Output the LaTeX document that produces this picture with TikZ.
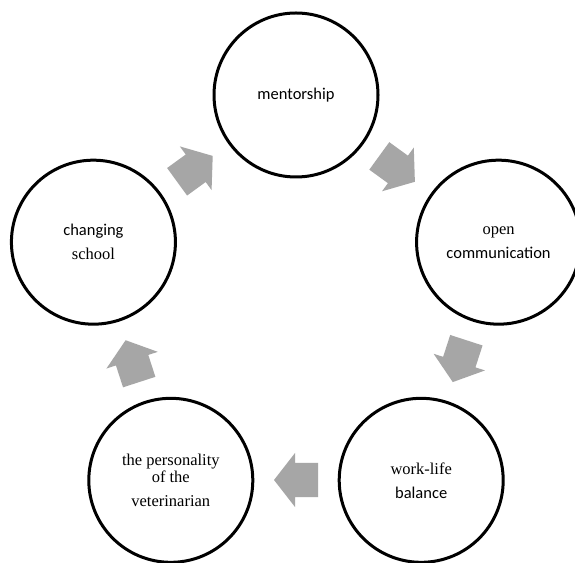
\documentclass[tikz,border=0pt]{standalone}
\usepackage{fontspec}
\setmainfont{Liberation Serif}
\setsansfont{Carlito}
\definecolor{arrowgray}{HTML}{A6A6A6}
\tikzset{
  cyc/.style={circle, draw=black, line width=3pt, fill=white, minimum size=164pt, inner sep=0pt, align=center, font=\fontsize{16.5}{24}\selectfont},
  blockarrow/.style={fill=arrowgray, draw=none}
}
\newcommand{\cycarrow}{(-22,-17) -- (1,-17) -- (1,-27) -- (22,0) -- (1,27) -- (1,17) -- (-22,17) -- cycle}
\begin{document}
\begin{tikzpicture}[x=1pt,y=1pt]
\useasboundingbox (0,0) rectangle (575,562);
\fill[white] (0,0) rectangle (575,562);
\clip (0,0) rectangle (575,562);
\coordinate (C) at (296,254);
% arrow positions
\coordinate (a1) at ([shift={(126:172)}]C);
\coordinate (a2) at ([shift={(54:172)}]C);
\coordinate (a3) at ([shift={(-18:172)}]C);
\coordinate (a4) at ([shift={(-90:172)}]C);
\coordinate (a5) at ([shift={(198:172)}]C);
\begin{scope}[shift={(a1)}, rotate=36] \fill[blockarrow] \cycarrow; \end{scope}
\begin{scope}[shift={(a2)}, rotate=-36] \fill[blockarrow] \cycarrow; \end{scope}
\begin{scope}[shift={(a3)}, rotate=-108] \fill[blockarrow] \cycarrow; \end{scope}
\begin{scope}[shift={(a4)}, rotate=180] \fill[blockarrow] \cycarrow; \end{scope}
\begin{scope}[shift={(a5)}, rotate=108] \fill[blockarrow] \cycarrow; \end{scope}
% circles
\node[cyc] (mentor) at ([shift={(90:213)}]C) {{\sffamily mentorship}};
\node[cyc] (opencomm) at ([shift={(18:213)}]C) {open\\ {\sffamily communication}};
\node[cyc] (worklife) at ([shift={(-54:213)}]C) {work-life\\ {\sffamily balance}};
\node[cyc] (personality) at ([shift={(-126:213)}]C) {the personality\\[-7pt] of the\\ veterinarian};
\node[cyc] (school) at ([shift={(162:213)}]C) {{\sffamily changing}\\ school};
\end{tikzpicture}
\end{document}
